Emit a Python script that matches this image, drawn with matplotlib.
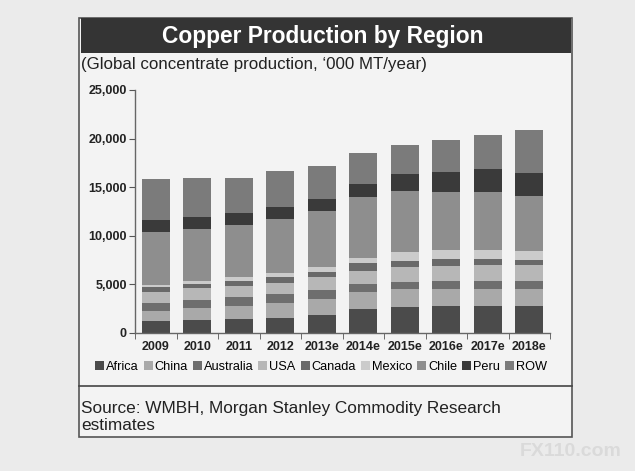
import matplotlib.pyplot as plt
from matplotlib.patches import Rectangle
from matplotlib.ticker import FuncFormatter, FixedLocator

plt.rcParams['font.family'] = ['Liberation Sans', 'DejaVu Sans']

years = ["2009", "2010", "2011", "2012", "2013e", "2014e", "2015e", "2016e", "2017e", "2018e"]

# '000 MT/year
africa = [1200, 1310, 1410, 1550, 1820, 2410, 2680, 2750, 2750, 2700]
china = [1030, 1200, 1370, 1510, 1650, 1750, 1790, 1790, 1790, 1800]
australia = [790, 860, 930, 930, 930, 820, 790, 790, 820, 840]
usa = [1210, 1200, 1100, 1100, 1300, 1410, 1540, 1580, 1650, 1610]
canada = [480, 480, 520, 610, 550, 760, 620, 690, 620, 530]
mexico = [200, 280, 440, 490, 490, 510, 930, 920, 890, 950]
chile = [5500, 5390, 5290, 5490, 5800, 6290, 6250, 6020, 5950, 5690]
peru = [1170, 1200, 1240, 1280, 1250, 1380, 1720, 2060, 2400, 2310]
row = [4260, 4030, 3610, 3670, 3360, 3160, 3030, 3260, 3470, 4460]

regions = ["Africa", "China", "Australia", "USA", "Canada", "Mexico", "Chile", "Peru", "ROW"]
series = [africa, china, australia, usa, canada, mexico, chile, peru, row]
colors = ["#4b4b4b", "#a9a9a9", "#6e6e6e", "#b7b7b7", "#696969",
          "#cbcbcb", "#8e8e8e", "#3a3a3a", "#7b7b7b"]

W, H = 635, 471
fig = plt.figure(figsize=(W / 100, H / 100), dpi=100)
fig.patch.set_facecolor("#ebebeb")


def px(x0, y0, x1, y1):
    # pixel box (top-left origin) -> figure fraction rect
    return [x0 / W, 1 - y1 / H, (x1 - x0) / W, (y1 - y0) / H]


# outer frame
fig.add_artist(Rectangle((79 / W, 1 - 437 / H), (572 - 79) / W, (437 - 18) / H,
                         transform=fig.transFigure, fc="#f3f3f3", ec="#555555",
                         lw=1.2, zorder=-2))
# title band
fig.add_artist(Rectangle((81 / W, 1 - 53 / H), (571 - 81) / W, (53 - 18) / H,
                         transform=fig.transFigure, fc="#343434", ec="none", zorder=-1))
fig.text(323 / W, 1 - 36 / H, "Copper Production by Region", color="white",
         fontsize=16.4, fontweight="bold", ha="center", va="center")
fig.text(81 / W, 1 - 65 / H, "(Global concentrate production, \u2018000 MT/year)",
         fontsize=12.2, ha="left", va="center", color="#222222")

# separator line above source
fig.add_artist(plt.Line2D([79 / W, 572 / W], [1 - 386 / H, 1 - 386 / H],
                          transform=fig.transFigure, color="#444444", lw=1.2))
fig.text(81 / W, 1 - 408 / H, "Source: WMBH, Morgan Stanley Commodity Research",
         fontsize=12.4, ha="left", va="center", color="#222222")
fig.text(81 / W, 1 - 426 / H, "estimates",
         fontsize=12.4, ha="left", va="center", color="#222222")

fig.text(622 / W, 1 - 452 / H, "FX110.com", fontsize=14, fontweight="bold",
         ha="right", va="center", color="#dadada")

ax = fig.add_axes(px(135, 90, 550, 332.7))
ax.set_zorder(2)
ax.set_facecolor("none")

x = list(range(len(years)))
bottom = [0] * len(years)
for name, vals, c in zip(regions, series, colors):
    ax.bar(x, vals, width=0.68, bottom=bottom, color=c, label=name, edgecolor="none")
    bottom = [b + v for b, v in zip(bottom, vals)]

ax.set_xlim(-0.5, len(years) - 0.5)
ax.set_ylim(0, 25000)
ax.set_yticks(range(0, 25001, 5000))
ax.yaxis.set_major_formatter(FuncFormatter(lambda v, p: f"{int(v):,}"))
ax.set_xticks(x)
ax.set_xticklabels(years)
ax.xaxis.set_minor_locator(FixedLocator([i - 0.5 for i in range(len(years) + 1)]))
ax.tick_params(axis="x", which="major", length=0, pad=6)
ax.tick_params(axis="x", which="minor", length=4, color="#555555", direction="out")
ax.tick_params(axis="y", length=4, color="#555555", direction="out", pad=2)
for lab in ax.get_xticklabels():
    lab.set_fontsize(9)
    lab.set_fontweight("bold")
    lab.set_color("#222222")
for lab in ax.get_yticklabels():
    lab.set_fontsize(9)
    lab.set_fontweight("bold")
    lab.set_color("#222222")

for s in ["top", "right"]:
    ax.spines[s].set_visible(False)
for s in ["left", "bottom"]:
    ax.spines[s].set_color("#666666")
    ax.spines[s].set_linewidth(1.0)

ax.legend(loc="center", bbox_to_anchor=(321 / W, 1 - 367 / H), bbox_transform=fig.transFigure,
          ncol=9, frameon=False, fontsize=9.2, handlelength=0.7, handleheight=0.7,
          handletextpad=0.15, columnspacing=0.4, borderaxespad=0)

fig.savefig("out.png", dpi=100, facecolor=fig.get_facecolor())
